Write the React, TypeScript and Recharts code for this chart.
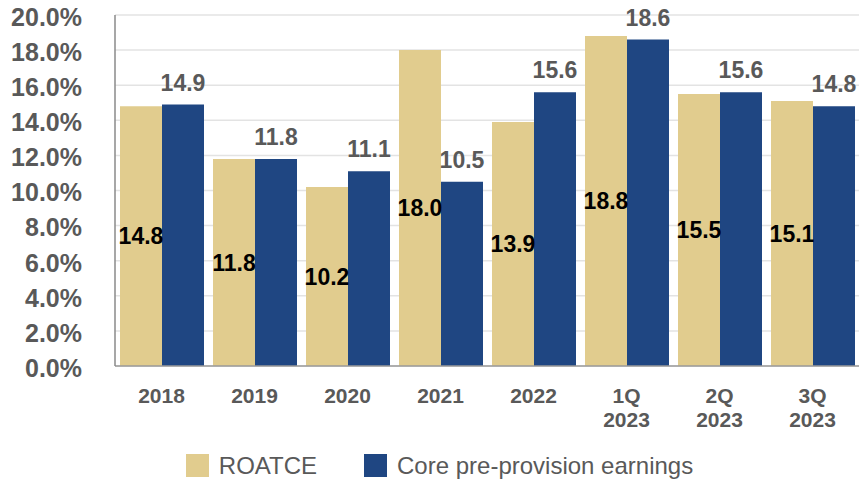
import { BarChart, Bar, XAxis, YAxis, CartesianGrid, LabelList, Legend } from 'recharts';

// values
const periods = ['2018', '2019', '2020', '2021', '2022', '1Q\n2023', '2Q\n2023', '3Q\n2023'];
const roatce = [14.8, 11.8, 10.2, 18.0, 13.9, 18.8, 15.5, 15.1];
const corePpe = [14.9, 11.8, 11.1, 10.5, 15.6, 18.6, 15.6, 14.8];
const yTicks = [0, 2, 4, 6, 8, 10, 12, 14, 16, 18, 20];

const TAN = '#E1CC8E';
const NAVY = '#1F4682';
const GREY_TEXT = '#595959';

const data = periods.map((p, i) => ({ period: p, roatce: roatce[i], core: corePpe[i] }));

const legendItems = [
  { name: 'ROATCE', color: TAN },
  { name: 'Core pre-provision earnings', color: NAVY },
];

function PeriodTick({ x, y, payload }: { x?: number; y?: number; payload?: { value: string } }) {
  const lines = String(payload?.value ?? '').split('\n');
  return (
    <text
      x={x}
      y={(y ?? 0) + 37}
      textAnchor="middle"
      fill={GREY_TEXT}
      fontSize={21}
      fontWeight="bold"
    >
      {lines.map((line, i) => (
        <tspan key={i} x={x} dy={i === 0 ? 0 : 24}>
          {line}
        </tspan>
      ))}
    </text>
  );
}

function BottomLegend() {
  return (
    <div
      style={{
        height: 50,
        paddingTop: 20,
        paddingLeft: 20,
        boxSizing: 'border-box',
        display: 'flex',
        justifyContent: 'center',
        alignItems: 'center',
        gap: 47,
      }}
    >
      {legendItems.map((item) => (
        <div key={item.name} style={{ display: 'flex', alignItems: 'center', gap: 10 }}>
          <div style={{ width: 23, height: 23, backgroundColor: item.color }} />
          <span style={{ fontSize: 24, color: GREY_TEXT, lineHeight: '23px' }}>{item.name}</span>
        </div>
      ))}
    </div>
  );
}

export default function App() {
  return (
    <div style={{ position: 'absolute', left: 0, top: 0, width: 860, height: 480, background: '#fff' }}>
      <BarChart
        width={860}
        height={480}
        data={data}
        margin={{ top: 15, right: 1, bottom: 0, left: 0 }}
        barCategoryGap={5}
        barGap={0}
        style={{ fontFamily: '"Liberation Sans", Arial, sans-serif' }}
      >
        <CartesianGrid horizontal vertical={false} stroke="#e3e3e3" strokeWidth={1.5} />
        <XAxis
          dataKey="period"
          height={64}
          tickLine={false}
          tickSize={0}
          tickMargin={0}
          axisLine={{ stroke: '#9a9a9a', strokeWidth: 1.5 }}
          tick={<PeriodTick />}
          interval={0}
        />
        <YAxis
          width={115}
          domain={[0, 20]}
          ticks={yTicks}
          interval={0}
          tickLine={false}
          tickSize={0}
          tickMargin={33}
          axisLine={{ stroke: '#8a8a8a', strokeWidth: 1.5 }}
          tickFormatter={(v: number) => `${v.toFixed(1)}%`}
          tick={{ fill: GREY_TEXT, fontSize: 25, fontWeight: 'bold', dy: 2 }}
        />
        <Legend verticalAlign="bottom" height={50} content={<BottomLegend />} />
        <Bar dataKey="roatce" name="ROATCE" fill={TAN} isAnimationActive={false}>
          <LabelList
            dataKey="roatce"
            position="center"
            formatter={(v: number) => v.toFixed(1)}
            fill="#000"
            fontSize={23}
            fontWeight="bold"
          />
        </Bar>
        <Bar dataKey="core" name="Core pre-provision earnings" fill={NAVY} isAnimationActive={false}>
          <LabelList
            dataKey="core"
            position="top"
            offset={14}
            formatter={(v: number) => v.toFixed(1)}
            fill={GREY_TEXT}
            fontSize={23}
            fontWeight="bold"
          />
        </Bar>
      </BarChart>
    </div>
  );
}
